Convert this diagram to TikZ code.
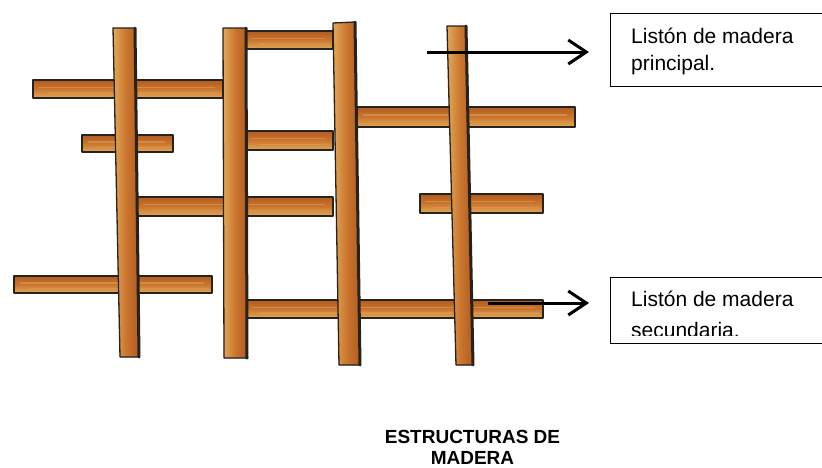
\documentclass[tikz,border=0pt]{standalone}
\usepackage{fontspec}
\setmainfont{Liberation Sans}
\usetikzlibrary{arrows.meta,calc}

\definecolor{wood}{RGB}{202,118,46}
\definecolor{woodlight}{RGB}{226,168,88}
\definecolor{wooddark}{RGB}{178,92,34}
\definecolor{pencil}{RGB}{38,34,30}

\tikzset{
  edge/.style={draw=pencil, line width=1.3pt, line join=round},
  heavyedge/.style={draw=pencil, line width=3pt, line cap=round},
  barfill/.style={top color=wooddark, bottom color=woodlight, middle color=wood},
  postfill/.style={left color=woodlight, right color=wooddark, middle color=wood},
  grain/.style={draw=woodlight, line width=1.4pt, opacity=0.5},
  pointer/.style={draw=black, line width=3pt,
    -{Straight Barb[length=18pt,width=24pt,line width=3pt]}},
  labelbox/.style={draw=black, line width=1pt, anchor=north west, inner sep=0pt},
  labeltext/.style={anchor=base west, inner sep=0pt, font=\fontsize{21}{27}\selectfont},
  titletext/.style={anchor=base, inner sep=0pt, font=\bfseries\fontsize{19}{21}\selectfont}
}

% a horizontal batten: corners (x1,y1) and (x2,y2)
\newcommand{\woodbar}[4]{%
  \fill[barfill] (#1,#2) rectangle (#3,#4);
  \path[grain] ($(#1,#2)!0.4!(#1,#4)+(6,0)$) -- ($(#3,#2)!0.4!(#3,#4)+(-8,0)$);
  \path[grain,opacity=0.35] ($(#1,#2)!0.72!(#1,#4)+(14,0)$) -- ($(#3,#2)!0.72!(#3,#4)+(-4,0)$);
  \draw[edge] (#1,#2) rectangle (#3,#4);
}

% an upright post: top-left, top-right, bottom-right, bottom-left
\newcommand{\woodpost}[4]{%
  \fill[postfill] #1 -- #2 -- #3 -- #4 -- cycle;
  \draw[edge] #1 -- #2 -- #3 -- #4 -- cycle;
  \draw[heavyedge] #2 -- #3;
}

\begin{document}
\begin{tikzpicture}[x=1pt,y=-1pt]
\useasboundingbox (0,0) rectangle (822,467);
\fill[white] (0,0) rectangle (822,467);

% horizontal battens (behind the posts)
\woodbar{33}{80}{223}{98}
\woodbar{245}{31}{333}{49}
\woodbar{82}{135}{173}{152}
\woodbar{245}{131}{333}{150}
\woodbar{357}{107}{575}{127}
\woodbar{137}{197}{333}{216}
\woodbar{420}{194}{543}{213}
\woodbar{14}{276}{212}{293}
\woodbar{245}{300}{543}{318}

% upright posts
\woodpost{(113,28)}{(135,28)}{(139,357)}{(120,357)}
\woodpost{(223,28)}{(246,28)}{(247,358)}{(224,358)}
\woodpost{(333,23)}{(355,22)}{(360,365)}{(339,365)}
\woodpost{(447,26)}{(466,26)}{(473,365)}{(456,365)}

% label boxes
\node[labelbox, minimum width=225pt, minimum height=73pt] (box1) at (610,13) {};
\node[labeltext] (box1a) at (631,43.3) {Listón de madera};
\node[labeltext] (box1b) at (631,70.7) {principal.};

\node[labelbox, minimum width=225pt, minimum height=66pt] (box2) at (610,277) {};
\node[labeltext] (box2a) at (631,306) {Listón de madera};
\begin{scope}
  \clip (611,278) rectangle (830,335);
  \node[labeltext] (box2b) at (631,337) {secundaria.};
\end{scope}

% pointers
\coordinate (p1s) at (427,52);
\coordinate (p1e) at (589,52);
\coordinate (p2s) at (488,303);
\coordinate (p2e) at (589,303);
\draw[pointer] (p1s) -- (p1e);
\draw[pointer] (p2s) -- (p2e);

% caption
\node[titletext] (cap1) at (472.5,443) {ESTRUCTURAS DE};
\node[titletext] (cap2) at (472.5,464) {MADERA};
\end{tikzpicture}
\end{document}
